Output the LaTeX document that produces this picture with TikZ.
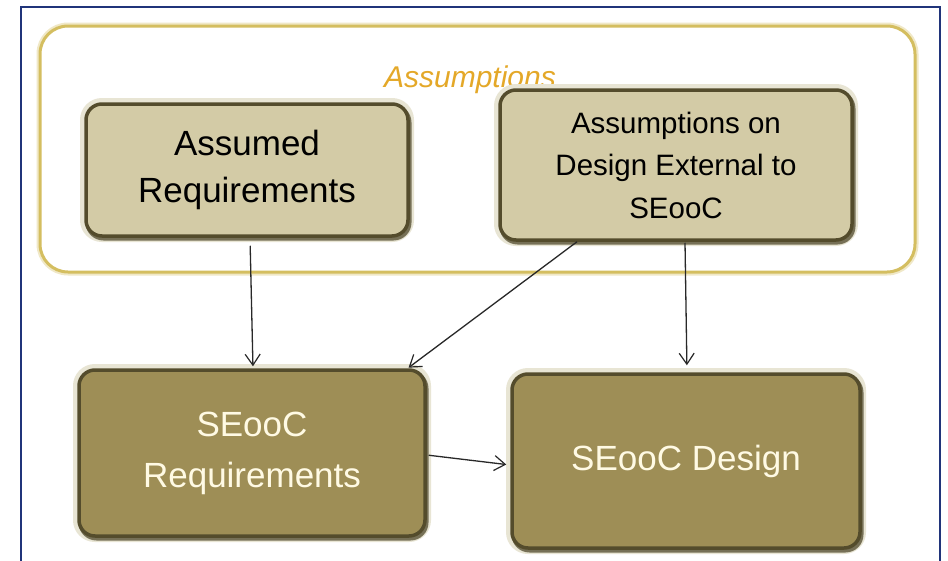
\documentclass[tikz,border=0pt]{standalone}
\usepackage{fontspec}
\setmainfont{Liberation Sans}
\usetikzlibrary{arrows.meta,calc}
\definecolor{frameblue}{RGB}{32,52,122}
\definecolor{grpgold}{RGB}{212,190,96}
\definecolor{lbgold}{RGB}{228,168,40}
\definecolor{tanfill}{RGB}{211,203,166}
\definecolor{olivefill}{RGB}{158,142,86}
\definecolor{edgedark}{RGB}{84,76,44}
\definecolor{halo}{RGB}{232,229,212}
\definecolor{creamtext}{RGB}{255,250,228}
\definecolor{arrowgray}{RGB}{40,40,40}
\begin{document}
\begin{tikzpicture}[x=1pt,y=-1pt,
  groupbox/.style={draw=grpgold, line width=3pt, rounded corners=28pt, fill=white,
    preaction={draw=grpgold!35, line width=7pt}},
  basebox/.style={rounded corners=16pt, draw=edgedark, line width=3.5pt,
    preaction={draw=halo, line width=12pt},
    preaction={draw=edgedark!80, line width=4pt, transform canvas={shift={(1.5pt,-2.5pt)}}},
    align=center, inner sep=0pt},
  topbox/.style={basebox, fill=tanfill, text=black},
  botbox/.style={basebox, fill=olivefill, text=creamtext},
  conn/.style={draw=arrowgray, line width=1.3pt, -{Straight Barb[length=11pt,width=15pt,line width=1.2pt]}}
]
\useasboundingbox (0,0) rectangle (948,560);
\fill[white] (0,0) rectangle (948,560);
\draw[frameblue, line width=2pt] (21,564) -- (21,7) -- (940,7) -- (940,564);

\node[groupbox, minimum width=875pt, minimum height=246pt] (grp) at (477.5,149) {};
\node[anchor=base, text=lbgold, font=\fontsize{30}{36}\selectfont\itshape] (lbl) at (470,87) {Assumptions};

\node[topbox, minimum width=322pt, minimum height=132pt,
  font=\fontsize{35}{47}\selectfont] (ar) at (247,170) {Assumed\\Requirements};
\node[topbox, minimum width=352pt, minimum height=150pt,
  font=\fontsize{29.5}{42.5}\selectfont] (ade) at (676,165) {Assumptions on\\Design External to\\SEooC};
\node[botbox, minimum width=346pt, minimum height=166pt,
  font=\fontsize{35}{51}\selectfont] (sr) at (252,453) {SEooC\\Requirements};
\node[botbox, minimum width=348pt, minimum height=174pt,
  font=\fontsize{35}{42}\selectfont] (sd) at (686,461) {SEooC Design};

\draw[conn, shorten <=8pt, shorten >=2pt] ([xshift=3pt]ar.south) -- ([xshift=1pt]sr.north);
\draw[conn, shorten >=1pt] ([xshift=-99pt]ade.south) -- ([xshift=-19pt]sr.north east);
\draw[conn, shorten <=1pt, shorten >=7pt] ([xshift=9pt]ade.south) -- ([xshift=1pt]sd.north);
\draw[conn, shorten <=2pt, shorten >=4pt] ([yshift=-2pt]sr.east) -- ([yshift=-4pt]sd.west);
\end{tikzpicture}
\end{document}
